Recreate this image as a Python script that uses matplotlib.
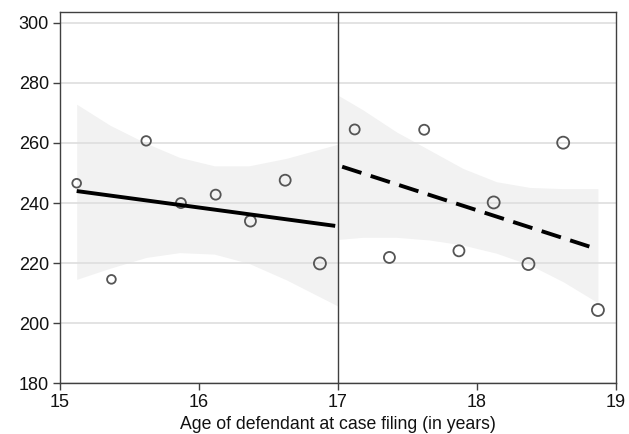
import matplotlib
matplotlib.use("Agg")
import matplotlib.pyplot as plt

plt.rcParams['font.family'] = ['Liberation Sans', 'DejaVu Sans']

# binned means (age, outcome) and marker size (px diameter ~ bin weight)
left_age = [15.12, 15.37, 15.62, 15.87, 16.12, 16.37, 16.62, 16.87]
left_val = [246.6, 214.6, 260.7, 240.0, 242.8, 234.0, 247.6, 219.9]
left_size = [8.7, 8.7, 9.5, 10.0, 10.0, 11.0, 11.0, 12.0]

right_age = [17.12, 17.37, 17.62, 17.87, 18.12, 18.37, 18.62, 18.87]
right_val = [264.5, 221.9, 264.4, 224.1, 240.2, 219.7, 260.1, 204.4]
right_size = [10.0, 11.0, 10.0, 11.0, 12.0, 12.0, 12.0, 12.0]

# fitted lines
left_fit_x = [15.12, 16.98]
left_fit_y = [244.0, 232.4]
right_fit_x = [17.03, 18.87]
right_fit_y = [252.1, 224.6]

# confidence bands
left_ci_x = [15.12, 15.36, 15.62, 15.86, 16.11, 16.36, 16.63, 17.0]
left_ci_hi = [272.9, 265.9, 259.9, 255.2, 252.4, 252.4, 254.9, 259.6]
left_ci_lo = [214.6, 218.3, 221.9, 223.5, 223.0, 219.9, 214.4, 205.7]

right_ci_x = [17.0, 17.18, 17.42, 17.66, 17.9, 18.14, 18.38, 18.62, 18.87]
right_ci_hi = [275.9, 271.0, 263.7, 257.6, 251.5, 247.1, 245.2, 244.8, 244.8]
right_ci_lo = [227.9, 228.6, 228.6, 227.7, 226.0, 223.3, 219.4, 213.8, 206.8]

fig = plt.figure(figsize=(6.29, 4.34), dpi=100)
ax = fig.add_axes([60 / 629, 1 - 383.3 / 434, (616 - 60) / 629, (383.3 - 12) / 434])

band = '#f2f2f2'
ax.fill_between(left_ci_x, left_ci_lo, left_ci_hi, color=band, lw=0, zorder=0.5)
ax.fill_between(right_ci_x, right_ci_lo, right_ci_hi, color=band, lw=0, zorder=0.5)

ax.set_axisbelow(True)
ax.grid(axis='y', color='#dedede', lw=1.2, zorder=1)
ax.grid(axis='x', visible=False)

px2pt = 0.72
ax.scatter(left_age, left_val, s=[(d * px2pt) ** 2 for d in left_size],
           facecolors='none', edgecolors='#555555', linewidths=1.3, zorder=3)
ax.scatter(right_age, right_val, s=[(d * px2pt) ** 2 for d in right_size],
           facecolors='none', edgecolors='#555555', linewidths=1.3, zorder=3)

ax.plot(left_fit_x, left_fit_y, color='black', lw=2.8, solid_capstyle='butt', zorder=4)
ax.plot(right_fit_x, right_fit_y, color='black', lw=2.8, dashes=(5.2, 2.5),
        dash_capstyle='butt', zorder=4)

ax.axvline(17, color='#404040', lw=1.0, zorder=2)

ax.set_xlim(15, 19)
ax.set_ylim(180, 303.6)
ax.set_xticks([15, 16, 17, 18, 19])
ax.set_yticks([180, 200, 220, 240, 260, 280, 300])

for s in ax.spines.values():
    s.set_color('#404040')
    s.set_linewidth(1.0)

ax.tick_params(axis='both', direction='out', length=5, width=1.0, color='#404040',
               labelsize=13, labelcolor='#111111')
ax.tick_params(axis='x', pad=3)
ax.tick_params(axis='y', pad=3)

ax.set_xlabel('Age of defendant at case filing (in years)', fontsize=12.7,
              color='#111111', labelpad=3)

fig.savefig('out.png', dpi=100)
